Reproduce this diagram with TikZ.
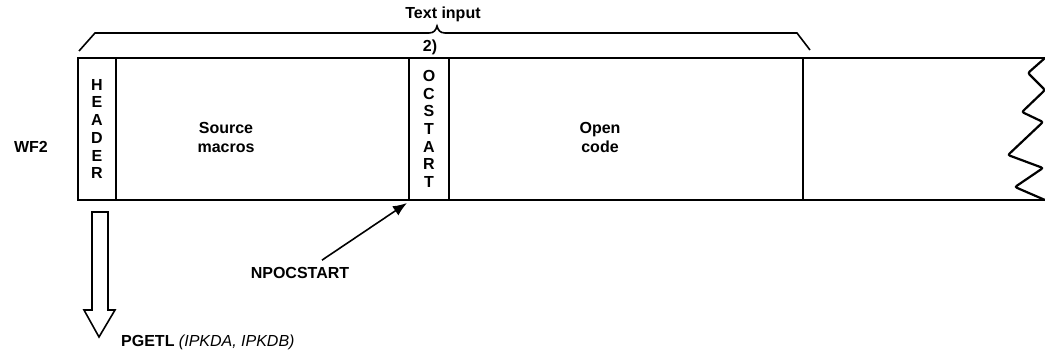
\documentclass[tikz,border=0pt]{standalone}
\usepackage{fontspec}
\setsansfont{Liberation Sans}
\usetikzlibrary{positioning,calc,arrows.meta}

\begin{document}
\begin{tikzpicture}[x=1pt, y=-1pt, font=\sffamily\bfseries\fontsize{16}{19}\selectfont]
\tikzset{
  cell/.style={draw=black, line width=1.8pt, minimum height=142pt, inner sep=0pt, outer sep=0pt,
    anchor=north west, align=center, font=\sffamily\bfseries\fontsize{16}{17.7}\selectfont},
  lbl/.style={align=center, inner sep=1pt},
  frame/.style={line width=1.8pt},
  zig/.style={line width=2.2pt, rounded corners=2pt},
  brace/.style={line width=1.6pt},
  hollow/.style={line width=1.6pt, fill=white},
  ptr/.style={line width=1.6pt, -{Latex[length=14pt,width=11pt]}}
}
\useasboundingbox (0,0) rectangle (1045,356);
\node[cell, minimum width=38pt] (hdr) at (78,58) {H\\E\\A\\D\\E\\R};
\node[cell, minimum width=293pt] (src) at (hdr.north east) {};
\node[cell, minimum width=40pt] (ocs) at (src.north east) {O\\C\\S\\T\\A\\R\\T};
\node[cell, minimum width=354pt] (opc) at (ocs.north east) {};
\coordinate (tr) at (1045,58);
\coordinate (br) at (1045,200);
\draw[frame] (opc.north east) -- (tr);
\draw[frame] (opc.south east) -- (br);
\draw[zig] (tr) -- (1028,73) -- (1045,90) -- (1022,112) -- (1043,122) -- (1008,155) -- (1043,168) -- (1015,187) -- (br);
\node[lbl] (srctxt) at (226,137) {Source\\macros};
\node[lbl] (opctxt) at (600,137) {Open\\code};
\node[lbl] (wf) at (31,147) {WF2};
\draw[brace] (79,51) -- (95,33) -- (429,33) .. controls (434,33) and (436,30) .. (437,26)
  .. controls (438,30) and (440,33) .. (445,33) -- (797,33) -- (810,50);
\node[lbl] (txt) at (443,14) {Text input};
\node[lbl] (two) at (430,47) {2)};
\draw[hollow] (92,212) -- (108,212) -- (108,310) -- (115,310) -- (99,337) -- (84,310) -- (92,310) -- cycle;
\node[lbl, anchor=west] (pgetl) at (120,342) {PGETL {\mdseries\itshape (IPKDA, IPKDB)}};
\node[lbl] (npoc) at (300,273) {NPOCSTART};
\draw[ptr] ([shift={(22pt,6pt)}]npoc.north) -- ([shift={(-2pt,-3pt)}]ocs.south west);
\end{tikzpicture}
\end{document}
